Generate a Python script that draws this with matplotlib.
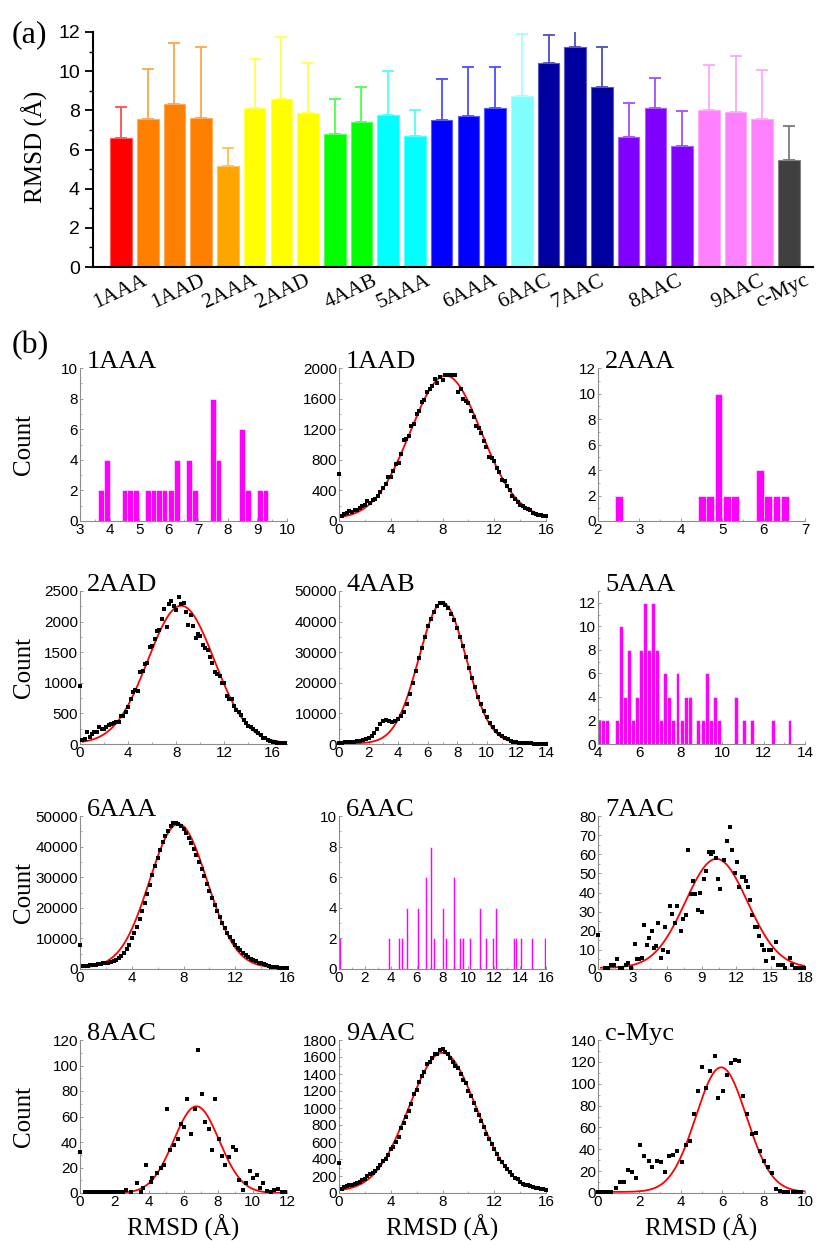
import matplotlib

matplotlib.use("Agg")
import matplotlib.pyplot as plt
import numpy as np
from matplotlib.colors import to_rgb
from matplotlib.ticker import AutoMinorLocator

SERIF = "Liberation Serif"
SANS = "Liberation Sans"
plt.rcParams["font.family"] = SANS

# ---------------- (a) mean RMSD with upper SD ----------------
BAR_MEAN = [6.59, 7.56, 8.31, 7.61, 5.16, 8.12, 8.57, 7.85, 6.79, 7.39, 7.75, 6.69, 7.51,
            7.72, 8.11, 8.72, 10.41, 11.21, 9.18, 6.64, 8.11, 6.18, 8.02, 7.90, 7.56, 5.45]
BAR_TOP = [8.19, 10.09, 11.42, 11.21, 6.06, 10.60, 11.73, 10.41, 8.57, 9.17, 10.03, 8.01, 9.58,
           10.19, 10.19, 11.90, 11.83, 12.08, 11.21, 8.35, 9.63, 7.96, 10.29, 10.75, 10.04, 7.19]
BAR_COLORS = (["#ff0000"] + ["#ff8000"] * 3 + ["#ffa500"] + ["#ffff00"] * 3 + ["#00ff00"] * 2
              + ["#00ffff"] * 2 + ["#0000ff"] * 3 + ["#80ffff"] + ["#0000a0"] * 3
              + ["#8000ff"] * 3 + ["#ff80ff"] * 3 + ["#404040"])
GROUP_LABELS = ["1AAA", "1AAD", "2AAA", "2AAD", "4AAB", "5AAA",
                "6AAA", "6AAC", "7AAC", "8AAC", "9AAC", "c-Myc"]
GROUP_LABEL_AT = [0.8, 2.95, 4.9, 6.9, 9.4, 11.4, 13.9, 15.9, 17.9, 20.8, 23.9, 25.55]

# ---------------- (b) histograms (bar centres / counts) ----------------
H1AAA_X = [3.72, 3.91, 4.51, 4.70, 4.89, 5.29, 5.48, 5.67, 5.86, 6.07, 6.29, 6.69, 6.89,
           7.49, 7.69, 8.48, 8.68, 9.08, 9.27]
H1AAA_N = [2, 4, 2, 2, 2, 2, 2, 2, 2, 2, 4, 4, 2, 8, 4, 6, 2, 2, 2]

H2AAA_X = [2.50, 4.51, 4.71, 4.91, 5.11, 5.31, 5.91, 6.11, 6.31, 6.51]
H2AAA_N = [2, 2, 2, 10, 2, 2, 4, 2, 2, 2]

H5AAA_X = [4.06, 4.25, 4.44, 4.90, 5.10, 5.29, 5.48, 5.68, 5.88, 6.08, 6.28, 6.47, 6.66, 6.85,
           7.05, 7.25, 7.45, 7.64, 7.84, 8.04, 8.23, 8.43, 8.85, 9.05, 9.25, 9.44, 9.64, 9.84,
           10.65, 11.06, 11.45, 12.45, 13.25]
H5AAA_N = [2, 2, 2, 2, 10, 4, 8, 2, 4, 8, 12, 8, 12, 8, 2, 6, 4, 2, 6, 2, 4, 4, 2, 2, 6, 2,
           4, 2, 4, 2, 2, 2, 2]

H6AAC_X = [0.08, 3.9, 4.65, 4.87, 5.28, 6.13, 6.69, 7.08, 7.31, 8.06, 8.27, 8.9, 9.33, 9.48,
           9.62, 10.1, 10.93, 11.33, 11.9, 12.12, 13.5, 13.7, 14.1, 14.93, 15.95]
H6AAC_N = [2, 2, 2, 2, 4, 4, 6, 8, 2, 4, 2, 6, 2, 2, 2, 2, 4, 2, 2, 4, 2, 2, 2, 2, 2]

# ---------------- (b) binned counts on a regular 0.2 A grid ----------------
S1AAD_Y = [620, 70, 90, 110, 130, 115, 150, 140, 170, 200, 215, 260, 240, 275, 290, 330, 380,
           430, 490, 570, 580, 650, 740, 760, 870, 1060, 1070, 1110, 1240, 1270, 1400, 1440,
           1560, 1580, 1680, 1720, 1770, 1860, 1800, 1880, 1840, 1910, 1910, 1910, 1910, 1910,
           1690, 1720, 1590, 1570, 1540, 1440, 1360, 1240, 1210, 1150, 1040, 970, 840, 820,
           780, 690, 640, 530, 520, 460, 410, 330, 290, 250, 210, 190, 170, 160, 140, 110, 90,
           80, 75, 70, 60]
S2AAD_Y = [950, 60, 80, 190, 120, 170, 200, 200, 270, 250, 240, 270, 310, 320, 350, 360, 360,
           450, 460, 520, 600, 740, 850, 880, 870, 1180, 1200, 1300, 1320, 1580, 1600, 1720,
           1850, 1870, 2050, 2200, 1910, 2280, 2340, 2260, 2190, 2400, 2290, 2300, 2160, 1950,
           2100, 1920, 1730, 1800, 1760, 1620, 1570, 1540, 1420, 1320, 1170, 1140, 1110, 1000,
           1000, 780, 730, 740, 620, 560, 530, 470, 390, 340, 290, 280, 240, 210, 180, 150,
           100, 90, 60, 50, 40, 30, 20, 20, 15, 10]
S4AAB_Y = [300, 400, 500, 600, 700, 800, 900, 1100, 1300, 1600, 2000, 2500, 3500, 5000, 6500,
           7500, 7800, 7500, 7200, 7600, 8200, 9000, 10500, 13000, 16500, 20000, 24000, 28000,
           31500, 35000, 38500, 41000, 43000, 45000, 46000, 46200, 45500, 44500, 42500, 40500,
           38000, 35000, 32000, 28500, 25000, 21500, 18500, 15500, 13000, 10800, 8800, 7000,
           5500, 4300, 3300, 2600, 2000, 1500, 1100, 800, 600, 450, 350, 280, 220, 180, 150,
           120, 100, 80, 60]
S6AAA_Y = [8000, 900, 1000, 1100, 1200, 1300, 1400, 1500, 1700, 1900, 2000, 2100, 2300, 2600,
           3000, 3600, 4300, 5300, 6400, 7800, 10000, 11800, 13800, 16200, 18800, 21600, 24600,
           27600, 30600, 33600, 36400, 39000, 41400, 43400, 45200, 46600, 47600, 47800, 47300,
           46600, 45600, 44400, 42900, 41200, 39300, 37200, 35000, 32700, 30300, 27900, 25500,
           23200, 21000, 18900, 16900, 15000, 13300, 11800, 10400, 9100, 8000, 7000, 6100, 5300,
           4600, 4000, 3400, 2900, 2500, 2100, 1800, 1500, 1200, 1000, 800, 650, 500, 400, 300,
           250, 200]
S9AAC_Y = [350, 50, 70, 80, 100, 90, 110, 120, 130, 150, 170, 200, 220, 230, 260, 300, 330,
           380, 400, 450, 520, 540, 600, 660, 760, 820, 900, 960, 1050, 1160, 1210, 1310, 1380,
           1420, 1520, 1540, 1590, 1640, 1640, 1680, 1700, 1660, 1640, 1590, 1540, 1500, 1470,
           1400, 1330, 1290, 1200, 1140, 1060, 980, 920, 850, 780, 700, 630, 580, 520, 460, 400,
           360, 320, 280, 250, 210, 180, 160, 130, 110, 100, 90, 80, 70, 60, 55, 50, 45, 40]
GRID_STEP = 0.2

# ---------------- (b) sparse counts ----------------
S7AAC_X = [0, 0.58, 0.86, 1.15, 1.35, 1.64, 1.87, 2.1, 2.4, 2.6, 2.9, 3.2, 3.37, 3.6, 3.8,
           3.98, 4.24, 4.47, 4.67, 4.84, 5.04, 5.24, 5.45, 5.65, 5.85, 6.05, 6.25, 6.46, 6.69,
           6.86, 7.23, 7.4, 7.64, 7.84, 8.07, 8.27, 8.47, 8.67, 8.88, 9.02, 9.22, 9.42, 9.63,
           9.83, 10.03, 10.23, 10.43, 10.63, 10.95, 11.24, 11.44, 11.67, 11.87, 12.1, 12.3,
           12.5, 12.7, 12.88, 13.05, 13.2, 13.43, 13.63, 13.83, 14.03, 14.24, 14.44, 14.64,
           14.84, 15.04, 15.24, 15.45, 15.65, 15.85, 16.05, 16.28, 16.7, 16.9, 17.1, 17.4,
           17.7, 17.95]
S7AAC_Y = [18, 0.5, 0.5, 2, 2, 5, 0.5, 0.5, 2, 3, 0.5, 13, 5, 5, 6, 23, 12.5, 16, 20, 11, 12,
           24, 6, 10, 22, 9, 33, 29, 24, 33, 20, 26, 28, 62, 39, 46, 39, 31, 40, 30, 47, 51, 61,
           60, 61, 58, 47, 42, 57, 67, 74, 62, 50, 56, 43, 48, 48, 46, 43, 36, 28, 22, 22, 17,
           12.5, 10, 4, 10, 10, 6, 14, 2, 2, 2, 0.5, 6, 2, 0.5, 0.5, 0.5, 0.5]
S8AAC_X = [0, 0.3, 0.5, 0.7, 0.9, 1.1, 1.3, 1.5, 1.7, 1.9, 2.1, 2.3, 2.5, 2.67, 2.95, 3.3,
           3.52, 3.66, 3.85, 4.1, 4.2, 4.44, 4.67, 4.86, 5.05, 5.24, 5.43, 5.66, 5.85, 6.04,
           6.23, 6.44, 6.67, 6.86, 7.05, 7.24, 7.47, 7.66, 7.85, 8.04, 8.23, 8.42, 8.61, 8.86,
           9.05, 9.24, 9.43, 9.62, 9.85, 10.03, 10.25, 10.44, 10.63, 10.86, 11.08, 11.27, 11.5,
           11.7, 11.9]
S8AAC_Y = [32, 0.5, 0.5, 0.5, 0.5, 0.5, 0.5, 0.5, 0.5, 0.5, 0.5, 0.5, 0.5, 2.3, 0.5, 8, 0.5,
           4, 22, 8.6, 12, 16, 20, 22, 66, 34, 38, 42, 54, 52, 74, 46, 66, 112, 78, 56, 50, 34,
           74, 42, 29, 22, 28, 36, 34, 10, 2, 8, 17.5, 12, 14, 4, 8, 1.3, 0.5, 2.6, 3, 1, 0.5]
SMYC_X = [0, 0.16, 0.32, 0.48, 0.64, 0.85, 1.04, 1.28, 1.44, 1.64, 1.83, 2.04, 2.23, 2.44,
          2.63, 2.84, 3.03, 3.24, 3.43, 3.64, 3.83, 4.04, 4.23, 4.43, 4.63, 4.83, 5.02, 5.23,
          5.42, 5.63, 5.82, 6.03, 6.22, 6.43, 6.62, 6.83, 7.02, 7.21, 7.42, 7.61, 7.81, 8.0,
          8.21, 8.4, 8.61, 8.8, 9.0, 9.2, 9.4, 9.6, 9.8]
SMYC_Y = [0.5, 0.5, 0.5, 0.5, 0.5, 5, 10, 10, 21, 19, 14, 44, 34, 29, 24, 29, 28, 19, 34, 35,
          38, 28, 44, 48, 72, 93, 115, 96, 112, 125, 87, 93, 108, 119, 122, 121, 89, 72, 54,
          55, 38, 29, 24, 18, 3.4, 1.5, 0.5, 0.5, 0.5, 0.5, 0.5]

# Gaussian fits: (centre, sigma, amplitude, baseline)
FIT_1AAD = (8.25, 2.75, 1870, 30)
FIT_2AAD = (8.4, 2.75, 2250, 10)
FIT_4AAB = (7.0, 1.6, 46000, 200)
FIT_6AAA = (7.6, 2.22, 47000, 400)
FIT_9AAC = (8.0, 2.6, 1630, 20)
FIT_7AAC = (10.3, 2.7, 57, 0.6)
FIT_8AAC = (6.75, 1.32, 68, 0)
FIT_MYC = (5.95, 1.22, 114, 1)


def gauss(x, xc, sigma, amp, base):
    return base + amp * np.exp(-((x - xc) ** 2) / (2 * sigma ** 2))


def lighten(color, f):
    r, g, b = to_rgb(color)
    return (r + (1 - r) * f, g + (1 - g) * f, b + (1 - b) * f)


def grid_x(values):
    return GRID_STEP * np.arange(len(values))


fig = plt.figure(figsize=(8.16, 12.41), dpi=100)

# ---------------- panel (a) ----------------
ax = fig.add_axes([93 / 816, 1 - 267 / 1241, 720 / 816, 235 / 1241])
idx = np.arange(len(BAR_MEAN))
ax.bar(idx, BAR_MEAN, width=0.81, color=BAR_COLORS,
       edgecolor=[lighten(c, 0.35) for c in BAR_COLORS], linewidth=0.8, zorder=2)
for i, (m, t, c) in enumerate(zip(BAR_MEAN, BAR_TOP, BAR_COLORS)):
    ax.errorbar(i, m, yerr=[[0], [t - m]], fmt="none", ecolor=lighten(c, 0.3),
                elinewidth=1.3, capsize=4, capthick=1.3, zorder=1)
ax.set_xlim(-1.05, 25.9)
ax.set_ylim(0, 12)
ax.set_yticks(np.arange(0, 13, 2))
ax.yaxis.set_minor_locator(AutoMinorLocator(2))
ax.set_xticks(GROUP_LABEL_AT)
ax.set_xticklabels(GROUP_LABELS, rotation=25, ha="right", va="top",
                   rotation_mode="anchor", family=SERIF, fontsize=15.5)
ax.tick_params(axis="x", length=0, pad=3)
ax.tick_params(axis="y", which="major", direction="out", length=6, width=1.3, labelsize=14)
ax.tick_params(axis="y", which="minor", direction="out", length=3, width=1.0)
for s in ("top", "right"):
    ax.spines[s].set_visible(False)
for s in ("left", "bottom"):
    ax.spines[s].set_linewidth(1.5)
fig.text(35 / 816, 1 - 147 / 1241, "RMSD (Å)", rotation=90, family=SERIF, fontsize=18,
         ha="center", va="center")
fig.text(12 / 816, 1 - 35 / 1241, "(a)", family=SERIF, fontsize=23, ha="left", va="center")
fig.text(12 / 816, 1 - 346 / 1241, "(b)", family=SERIF, fontsize=23, ha="left", va="center")

# ---------------- panel (b) ----------------
COL_LEFT = [80, 339, 598]
ROW_BOTTOM = [521, 744, 969, 1193]
PANEL_W, PANEL_H = 207, 153

PANELS = [
    ("1AAA", "hist", (H1AAA_X, H1AAA_N, 0.19), None, (3, 10), range(3, 11), (0, 10), range(0, 11, 2)),
    ("1AAD", "scatter", (grid_x(S1AAD_Y), S1AAD_Y), FIT_1AAD, (0, 16), range(0, 17, 4), (0, 2000), range(0, 2001, 400)),
    ("2AAA", "hist", (H2AAA_X, H2AAA_N, 0.19), None, (2, 7), range(2, 8), (0, 12), range(0, 13, 2)),
    ("2AAD", "scatter", (grid_x(S2AAD_Y), S2AAD_Y), FIT_2AAD, (0, 17.2), range(0, 17, 4), (0, 2500), range(0, 2501, 500)),
    ("4AAB", "scatter", (grid_x(S4AAB_Y), S4AAB_Y), FIT_4AAB, (0, 14), range(0, 15, 2), (0, 50000), range(0, 50001, 10000)),
    ("5AAA", "hist", (H5AAA_X, H5AAA_N, 0.19), None, (4, 14), range(4, 15, 2), (0, 13), range(0, 13, 2)),
    ("6AAA", "scatter", (grid_x(S6AAA_Y), S6AAA_Y), FIT_6AAA, (0, 16), range(0, 17, 4), (0, 50000), range(0, 50001, 10000)),
    ("6AAC", "hist", (H6AAC_X, H6AAC_N, 0.15), None, (0, 16), range(0, 17, 2), (0, 10), range(0, 11, 2)),
    ("7AAC", "scatter", (S7AAC_X, S7AAC_Y), FIT_7AAC, (0, 18), range(0, 19, 3), (0, 80), range(0, 81, 10)),
    ("8AAC", "scatter", (S8AAC_X, S8AAC_Y), FIT_8AAC, (0, 12), range(0, 13, 2), (0, 120), range(0, 121, 20)),
    ("9AAC", "scatter", (grid_x(S9AAC_Y), S9AAC_Y), FIT_9AAC, (0, 16), range(0, 17, 4), (0, 1800), range(0, 1801, 200)),
    ("c-Myc", "scatter", (SMYC_X, SMYC_Y), FIT_MYC, (0, 10), range(0, 11, 2), (0, 140), range(0, 141, 20)),
]

AXIS_GRAY = "#8c8c8c"
for k, (name, kind, data, fit, xlim, xticks, ylim, yticks) in enumerate(PANELS):
    row, col = divmod(k, 3)
    bx = fig.add_axes([COL_LEFT[col] / 816, 1 - ROW_BOTTOM[row] / 1241,
                       PANEL_W / 816, PANEL_H / 1241])
    if kind == "hist":
        xs, ns, w = data
        bx.bar(xs, ns, width=w, color="#ff00ff", edgecolor="white", linewidth=0.4)
    else:
        xs, ys = data
        bx.plot(xs, ys, "s", color="black", markersize=2.2, markeredgewidth=0,
                clip_on=False, zorder=3)
        xf = np.linspace(max(xlim[0], 0.25), xlim[1], 300)
        bx.plot(xf, gauss(xf, *fit), color="#ff0000", linewidth=1.3, zorder=2)
    bx.set_xlim(*xlim)
    bx.set_ylim(*ylim)
    bx.set_xticks(list(xticks))
    bx.set_yticks(list(yticks))
    bx.xaxis.set_minor_locator(AutoMinorLocator(2))
    bx.yaxis.set_minor_locator(AutoMinorLocator(2))
    for s in ("top", "right"):
        bx.spines[s].set_visible(False)
    for s in ("left", "bottom"):
        bx.spines[s].set_color(AXIS_GRAY)
        bx.spines[s].set_linewidth(0.8)
    bx.tick_params(which="major", direction="in", length=2.5, width=0.6, color=AXIS_GRAY,
                   labelsize=11, pad=1.5)
    bx.tick_params(which="minor", direction="in", length=1.5, width=0.5, color=AXIS_GRAY)
    bx.text(0.034, 1.0, name, transform=bx.transAxes, family=SERIF, fontsize=19,
            ha="left", va="baseline")
    if col == 0:
        cy = 1 - (ROW_BOTTOM[row] - PANEL_H / 2) / 1241
        fig.text(24 / 816, cy, "Count", rotation=90, family=SERIF, fontsize=18,
                 ha="center", va="center")
    if row == 3:
        fig.text((COL_LEFT[col] + PANEL_W / 2) / 816, 1 - 1228 / 1241, "RMSD (Å)",
                 family=SERIF, fontsize=18, ha="center", va="center")

fig.savefig("out.png", dpi=100)
